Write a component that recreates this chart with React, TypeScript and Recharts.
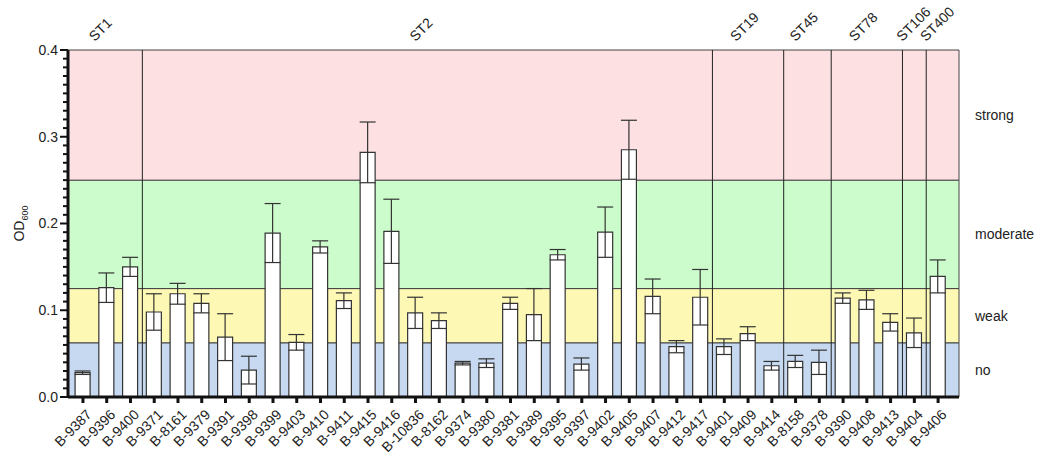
import { Bar, BarChart, ErrorBar, ReferenceArea, ReferenceLine, XAxis, YAxis } from 'recharts'

document.body.style.margin = '0'

const strains = [
  'B-9387', 'B-9396', 'B-9400',
  'B-9371', 'B-8161', 'B-9379', 'B-9391', 'B-9398', 'B-9399', 'B-9403', 'B-9410', 'B-9411', 'B-9415',
  'B-9416', 'B-10836', 'B-8162', 'B-9374', 'B-9380', 'B-9381', 'B-9389', 'B-9395', 'B-9397', 'B-9402',
  'B-9405', 'B-9407', 'B-9412', 'B-9417',
  'B-9401', 'B-9409', 'B-9414',
  'B-8158', 'B-9378',
  'B-9390', 'B-9408', 'B-9413',
  'B-9404',
  'B-9406'
]

const od600 = [
  0.028, 0.126, 0.150,
  0.098, 0.119, 0.108, 0.069, 0.031, 0.189, 0.063, 0.173, 0.111, 0.282,
  0.191, 0.097, 0.088, 0.039, 0.039, 0.108, 0.095, 0.164, 0.038, 0.190,
  0.285, 0.116, 0.058, 0.115,
  0.058, 0.073, 0.036,
  0.041, 0.040,
  0.114, 0.112, 0.086,
  0.074,
  0.139
]

const sd = [
  0.002, 0.017, 0.011,
  0.021, 0.012, 0.011, 0.027, 0.016, 0.034, 0.009, 0.007, 0.009, 0.035,
  0.037, 0.018, 0.009, 0.002, 0.005, 0.007, 0.030, 0.006, 0.007, 0.029,
  0.034, 0.020, 0.007, 0.032,
  0.009, 0.008, 0.005,
  0.007, 0.014,
  0.006, 0.011, 0.010,
  0.017,
  0.019
]

const sequenceTypes = ['ST1', 'ST2', 'ST19', 'ST45', 'ST78', 'ST106', 'ST400']
const groupSizes = [3, 24, 3, 2, 3, 1, 1]

const bands = [
  { name: 'no', from: 0, to: 0.0625, color: '#c6d9f0' },
  { name: 'weak', from: 0.0625, to: 0.125, color: '#fdf8b4' },
  { name: 'moderate', from: 0.125, to: 0.25, color: '#ccfccc' },
  { name: 'strong', from: 0.25, to: 0.4, color: '#fde0e2' }
]

const yMajorTicks = [0, 0.1, 0.2, 0.3, 0.4]
const yMinorStep = 0.01

const data = strains.map((name, i) => ({ idx: i, name, od: od600[i], err: sd[i] }))

const groups = sequenceTypes.map((st, g) => {
  const start = groupSizes.slice(0, g).reduce((a, b) => a + b, 0)
  return { st, start, center: start + (groupSizes[g] - 1) / 2 }
})

const yTicks: number[] = []
for (let k = 0; k <= Math.round(0.4 / yMinorStep); k++) yTicks.push(+(k * yMinorStep).toFixed(2))

const FONT = '"Liberation Sans", Arial, sans-serif'
const FS = 14

const YTick = (props: any) => {
  const { x, y, payload } = props
  const v = payload.value
  const major = yMajorTicks.some((m) => Math.abs(m - v) < 1e-6)
  return (
    <g>
      <line x1={x} x2={x - (major ? 8 : 5)} y1={y} y2={y} stroke="#111" strokeWidth={2} />
      {major && (
        <text x={x - 10} y={y} dy="0.35em" textAnchor="end" fontSize={FS} fontFamily={FONT} fill="#222">
          {v.toFixed(1)}
        </text>
      )}
    </g>
  )
}

const XTick = (props: any) => {
  const { x, y, payload } = props
  const name = strains[payload.value]
  const tx = x + 6
  const ty = y + 7
  return (
    <text
      x={tx}
      y={ty}
      dy="0.35em"
      textAnchor="end"
      fontSize={FS}
      fontFamily={FONT}
      fill="#222"
      transform={`rotate(-45, ${tx}, ${ty})`}
    >
      {name}
    </text>
  )
}

const GroupTick = (props: any) => {
  const { x, y, payload } = props
  const g = groups.find((gr) => Math.abs(gr.center - payload.value) < 1e-6)
  const tx = x - 12
  const ty = y - 8
  return (
    <text
      x={tx}
      y={ty}
      textAnchor="start"
      fontSize={FS}
      fontFamily={FONT}
      fill="#222"
      transform={`rotate(-45, ${tx}, ${ty})`}
    >
      {g ? g.st : ''}
    </text>
  )
}

const OdLabel = (props: any) => {
  const vb = props.viewBox || {}
  const cx = vb.x + 16
  const cy = vb.y + vb.height / 2
  return (
    <text x={cx} y={cy} textAnchor="middle" fontSize={FS} fontFamily={FONT} fill="#222" transform={`rotate(-90, ${cx}, ${cy})`}>
      OD
      <tspan fontSize={9} dy={4}>600</tspan>
    </text>
  )
}

const App = () => {
  const n = strains.length
  const xDomain = [-0.63, n - 1 + 0.88]
  return (
    <BarChart width={1038} height={453} data={data} margin={{ top: 20, right: 79, bottom: 0, left: 8 }}>
      {bands.map((b) => (
        <ReferenceArea
          key={b.name}
          y1={b.from}
          y2={b.to}
          fill={b.color}
          fillOpacity={1}
          stroke="#444"
          strokeWidth={1}
          label={{ value: b.name, position: 'right', offset: 16, fill: '#222', fontSize: FS, fontFamily: FONT }}
        />
      ))}
      <XAxis
        dataKey="idx"
        type="number"
        domain={xDomain}
        allowDataOverflow
        ticks={data.map((d) => d.idx)}
        interval={0}
        height={56}
        tick={<XTick />}
        tickSize={6}
        tickMargin={2}
        tickLine={{ stroke: '#111', strokeWidth: 3 }}
        axisLine={{ stroke: '#111', strokeWidth: 3 }}
      />
      <XAxis
        xAxisId="top"
        orientation="top"
        dataKey="idx"
        type="number"
        domain={xDomain}
        allowDataOverflow
        ticks={groups.map((g) => g.center)}
        interval={0}
        height={30}
        tick={<GroupTick />}
        tickSize={0}
        tickMargin={0}
        tickLine={false}
        axisLine={false}
      />
      <YAxis
        domain={[0, 0.4]}
        ticks={yTicks}
        interval={0}
        width={60}
        tickSize={0}
        tickMargin={0}
        tick={<YTick />}
        tickLine={false}
        axisLine={{ stroke: '#111', strokeWidth: 3 }}
        label={<OdLabel />}
      />
      <Bar dataKey="od" fill="#ffffff" stroke="#333" strokeWidth={1.2} barSize={15} isAnimationActive={false}>
        <ErrorBar dataKey="err" width={8} stroke="#333" strokeWidth={1.2} />
      </Bar>
      {groups.slice(1).map((g) => (
        <ReferenceLine key={g.st} x={g.start - 0.5} stroke="#222" strokeWidth={1} />
      ))}
    </BarChart>
  )
}

export default App
